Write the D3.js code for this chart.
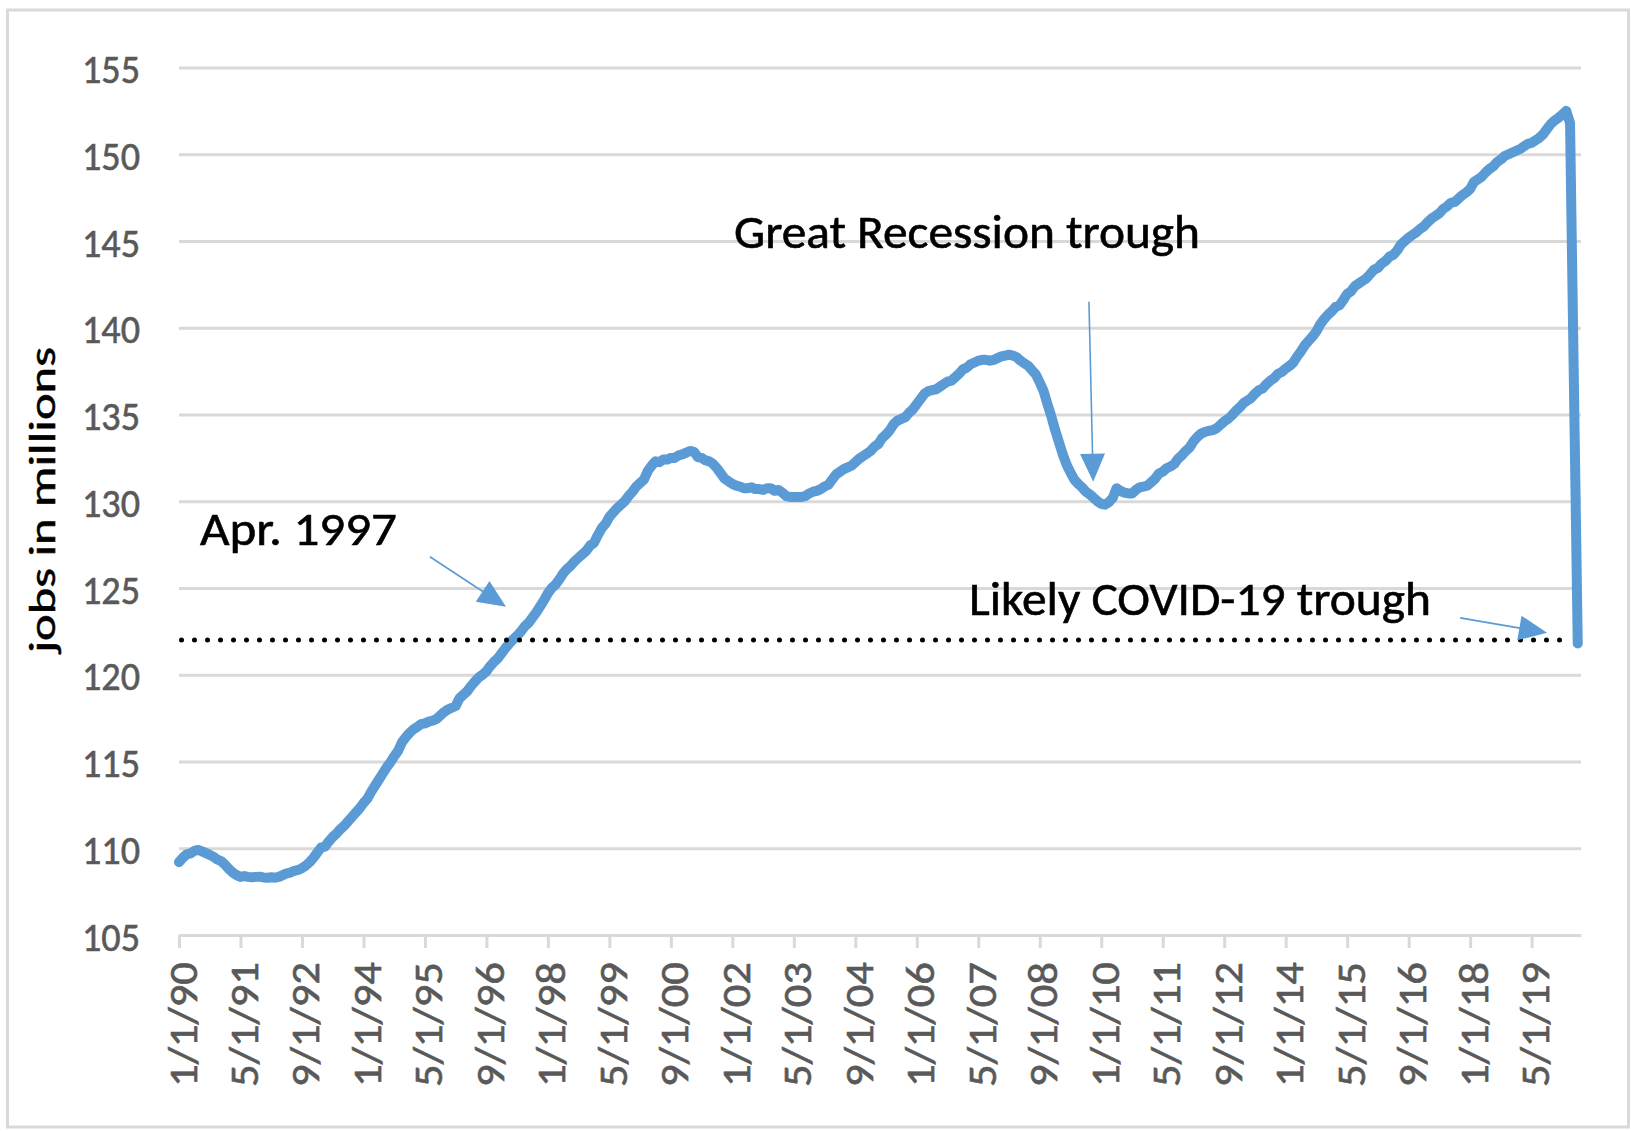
<!DOCTYPE html>
<html><head><meta charset="utf-8">
<script src="https://cdn.jsdelivr.net/npm/d3@7"></script>
<style>body{margin:0;background:#fff}</style>
</head><body>
<svg id="c" width="1631" height="1131"></svg>
<script>
// Monthly payroll jobs, millions (Jan of each year first)
const jobs1990 = [109.2, 109.45, 109.65, 109.7, 109.85, 109.9, 109.82, 109.72, 109.62, 109.5, 109.35, 109.25];
const jobs1991 = [109.05, 108.8, 108.6, 108.45, 108.35, 108.4, 108.35, 108.33, 108.35, 108.36, 108.32, 108.3];
const jobs1992 = [108.33, 108.3, 108.35, 108.45, 108.55, 108.6, 108.7, 108.75, 108.85, 109.0, 109.2, 109.45];
const jobs1993 = [109.75, 110.05, 110.1, 110.4, 110.65, 110.85, 111.1, 111.3, 111.55, 111.8, 112.05, 112.3];
const jobs1994 = [112.6, 112.85, 113.25, 113.6, 113.95, 114.3, 114.65, 114.95, 115.3, 115.6, 116.1, 116.4];
const jobs1995 = [116.65, 116.85, 117.0, 117.15, 117.2, 117.3, 117.35, 117.45, 117.65, 117.85, 118.0, 118.1];
const jobs1996 = [118.2, 118.65, 118.85, 119.05, 119.35, 119.6, 119.85, 120.0, 120.2, 120.5, 120.75, 120.95];
const jobs1997 = [121.25, 121.55, 121.8, 122.05, 122.25, 122.5, 122.8, 123.0, 123.3, 123.6, 123.95, 124.3];
const jobs1998 = [124.7, 125.0, 125.2, 125.5, 125.85, 126.1, 126.3, 126.55, 126.75, 126.95, 127.15, 127.45];
const jobs1999 = [127.6, 128.05, 128.45, 128.7, 129.1, 129.35, 129.6, 129.8, 130.0, 130.3, 130.55, 130.85];
const jobs2000 = [131.05, 131.25, 131.75, 132.05, 132.3, 132.25, 132.4, 132.4, 132.5, 132.5, 132.65, 132.7];
const jobs2001 = [132.8, 132.9, 132.85, 132.55, 132.5, 132.35, 132.3, 132.15, 131.9, 131.6, 131.3, 131.15];
const jobs2002 = [131.0, 130.9, 130.85, 130.75, 130.75, 130.8, 130.7, 130.7, 130.65, 130.75, 130.75, 130.6];
const jobs2003 = [130.65, 130.5, 130.3, 130.25, 130.25, 130.25, 130.25, 130.3, 130.45, 130.55, 130.6, 130.7];
const jobs2004 = [130.85, 130.95, 131.25, 131.55, 131.7, 131.85, 131.95, 132.05, 132.25, 132.45, 132.6, 132.75];
const jobs2005 = [132.9, 133.15, 133.3, 133.65, 133.85, 134.1, 134.45, 134.65, 134.75, 134.85, 135.1, 135.3];
const jobs2006 = [135.6, 135.9, 136.2, 136.35, 136.4, 136.45, 136.6, 136.75, 136.9, 136.95, 137.15, 137.35];
const jobs2007 = [137.6, 137.7, 137.9, 138.0, 138.1, 138.15, 138.15, 138.1, 138.15, 138.25, 138.35, 138.4];
const jobs2008 = [138.45, 138.4, 138.3, 138.1, 137.95, 137.8, 137.55, 137.3, 136.85, 136.35, 135.6, 134.9];
const jobs2009 = [134.1, 133.4, 132.7, 132.1, 131.65, 131.25, 131.0, 130.8, 130.55, 130.4, 130.2, 130.0];
const jobs2010 = [129.85, 129.8, 129.95, 130.2, 130.75, 130.6, 130.5, 130.45, 130.45, 130.65, 130.8, 130.85];
const jobs2011 = [130.9, 131.1, 131.3, 131.6, 131.7, 131.9, 132.0, 132.15, 132.45, 132.65, 132.9, 133.1];
const jobs2012 = [133.45, 133.7, 133.9, 134.0, 134.05, 134.1, 134.2, 134.4, 134.6, 134.75, 134.95, 135.2];
const jobs2013 = [135.4, 135.65, 135.8, 135.95, 136.2, 136.4, 136.5, 136.75, 136.95, 137.1, 137.35, 137.45];
const jobs2014 = [137.65, 137.8, 138.0, 138.35, 138.65, 139.0, 139.25, 139.5, 139.8, 140.2, 140.5, 140.75];
const jobs2015 = [140.95, 141.2, 141.3, 141.6, 141.95, 142.1, 142.4, 142.55, 142.7, 142.85, 143.1, 143.35];
const jobs2016 = [143.45, 143.7, 143.85, 144.1, 144.2, 144.45, 144.8, 145.0, 145.2, 145.35, 145.5, 145.7];
const jobs2017 = [145.85, 146.1, 146.3, 146.45, 146.6, 146.85, 147.0, 147.2, 147.25, 147.45, 147.65, 147.8];
const jobs2018 = [148.0, 148.4, 148.55, 148.7, 148.95, 149.15, 149.3, 149.55, 149.7, 149.9, 150.0, 150.1];
const jobs2019 = [150.2, 150.3, 150.45, 150.6, 150.65, 150.8, 150.95, 151.15, 151.45, 151.75, 151.95, 152.1];
const jobs2020 = [152.3, 152.5, 151.8];
// Hypothetical COVID trough point (months after Jan 1990, value)
const covidTroughMonth = 364;
const covidTroughValue = 121.8;
const apr1997Level = 122;

const yTicks = [105, 110, 115, 120, 125, 130, 135, 140, 145, 150, 155];
const xTickMonths = [0, 16, 32, 48, 64, 80, 96, 112, 128, 144, 160, 176, 192, 208, 224, 240, 256, 272, 288, 304, 320, 336, 352];
const xTickLabels = ["1/1/90","5/1/91","9/1/92","1/1/94","5/1/95","9/1/96","1/1/98","5/1/99","9/1/00","1/1/02","5/1/03","9/1/04","1/1/06","5/1/07","9/1/08","1/1/10","5/1/11","9/1/12","1/1/14","5/1/15","9/1/16","1/1/18","5/1/19"];

const annotations = [
  {text: "Apr. 1997", x: 200, y: 545, len: 197},
  {text: "Great Recession trough", x: 734, y: 248, len: 466},
  {text: "Likely COVID-19 trough", x: 969, y: 615, len: 462}
];
// arrows in data space: [month, value]
const arrows = [
  {from: [65.3, 126.8], to: [85.1, 123.92]},
  {from: [236.8, 141.5], to: [237.9, 131.12]},
  {from: [333.4, 123.28], to: [356.0, 122.42]}
];

const years = [jobs1990,jobs1991,jobs1992,jobs1993,jobs1994,jobs1995,jobs1996,jobs1997,jobs1998,jobs1999,
  jobs2000,jobs2001,jobs2002,jobs2003,jobs2004,jobs2005,jobs2006,jobs2007,jobs2008,jobs2009,
  jobs2010,jobs2011,jobs2012,jobs2013,jobs2014,jobs2015,jobs2016,jobs2017,jobs2018,jobs2019,jobs2020];
const series = [];
years.forEach((arr, yi) => arr.forEach((v, mi) => series.push({m: yi * 12 + mi, v})));
series.push({m: covidTroughMonth, v: covidTroughValue});

const FONT = "Carlito, Lato, sans-serif";
const svg = d3.select("#c");
svg.append("rect").attr("width", 1631).attr("height", 1131).attr("fill", "#fff");
svg.append("rect").attr("x", 7.5).attr("y", 10).attr("width", 1621).attr("height", 1117)
  .attr("fill", "none").attr("stroke", "#d9d9d9").attr("stroke-width", 3);

const x = d3.scaleLinear().domain([0, 364.85]).range([179, 1581]);
const y = d3.scaleLinear().domain([105, 155]).range([935, 67.5]);

// y axis with gridlines
const gy = svg.append("g").attr("transform", `translate(${x(0)},0)`)
  .call(d3.axisLeft(y).tickValues(yTicks).tickSize(-(x.range()[1] - x.range()[0])).tickPadding(39));
gy.select(".domain").remove();
gy.selectAll(".tick line").attr("stroke", "#d9d9d9").attr("stroke-width", 3);
gy.selectAll(".tick text").attr("fill", "#595959").attr("stroke", "#595959").attr("stroke-width", 0.6)
  .attr("font-family", FONT).attr("font-size", 42)
  .attr("dy", "0.36em").attr("textLength", 58).attr("lengthAdjust", "spacingAndGlyphs");

// x axis
const gx = svg.append("g").attr("transform", `translate(0,${y(105)})`)
  .call(d3.axisBottom(x).tickValues(xTickMonths).tickFormat((d, i) => xTickLabels[i]).tickSize(13).tickSizeOuter(0));
gx.select(".domain").attr("stroke", "#d9d9d9").attr("stroke-width", 3);
gx.selectAll(".tick line").attr("stroke", "#d9d9d9").attr("stroke-width", 3);
gx.selectAll(".tick text").attr("fill", "#595959").attr("stroke", "#595959").attr("stroke-width", 0.6)
  .attr("font-family", FONT).attr("font-size", 40)
  .attr("transform", "rotate(-90)").attr("text-anchor", "end")
  .attr("x", -27).attr("y", 17).attr("dy", 0)
  .attr("textLength", 125).attr("lengthAdjust", "spacingAndGlyphs");

// y title
svg.append("text").attr("transform", "translate(55,500) rotate(-90)")
  .attr("text-anchor", "middle").attr("font-family", FONT).attr("font-size", 37)
  .attr("fill", "#000").attr("stroke", "#000").attr("stroke-width", 0.5)
  .attr("textLength", 306).attr("lengthAdjust", "spacingAndGlyphs").text("jobs in millions");

// series line
svg.append("path").datum(series)
  .attr("fill", "none").attr("stroke", "#5b9bd5").attr("stroke-width", 10)
  .attr("stroke-linejoin", "round").attr("stroke-linecap", "round")
  .attr("d", d3.line().x(d => x(d.m)).y(d => y(d.v)));

// dotted reference line
svg.append("line").attr("x1", x(0) + 2.5).attr("x2", x(362.5))
  .attr("y1", y(apr1997Level)).attr("y2", y(apr1997Level))
  .attr("stroke", "#000").attr("stroke-width", 5).attr("stroke-linecap", "round")
  .attr("stroke-dasharray", "0 13");

// arrows
const HL = 28, HW = 12.5;
arrows.forEach(a => {
  const x1 = x(a.from[0]), y1 = y(a.from[1]), x2 = x(a.to[0]), y2 = y(a.to[1]);
  const dx = x2 - x1, dy = y2 - y1, L = Math.hypot(dx, dy), ux = dx / L, uy = dy / L;
  const bx = x2 - ux * HL, by = y2 - uy * HL;
  svg.append("line").attr("x1", x1).attr("y1", y1).attr("x2", bx + ux * 2).attr("y2", by + uy * 2)
    .attr("stroke", "#5b9bd5").attr("stroke-width", 1.6);
  svg.append("polygon")
    .attr("points", [[x2, y2], [bx - uy * HW, by + ux * HW], [bx + uy * HW, by - ux * HW]].map(p => p.join(",")).join(" "))
    .attr("fill", "#5b9bd5");
});

// annotation texts
annotations.forEach(t => {
  svg.append("text").attr("x", t.x).attr("y", t.y).attr("font-family", FONT).attr("font-size", 48)
    .attr("fill", "#000").attr("stroke", "#000").attr("stroke-width", 0.6)
    .attr("textLength", t.len).attr("lengthAdjust", "spacingAndGlyphs").text(t.text);
});
</script>
</body></html>
